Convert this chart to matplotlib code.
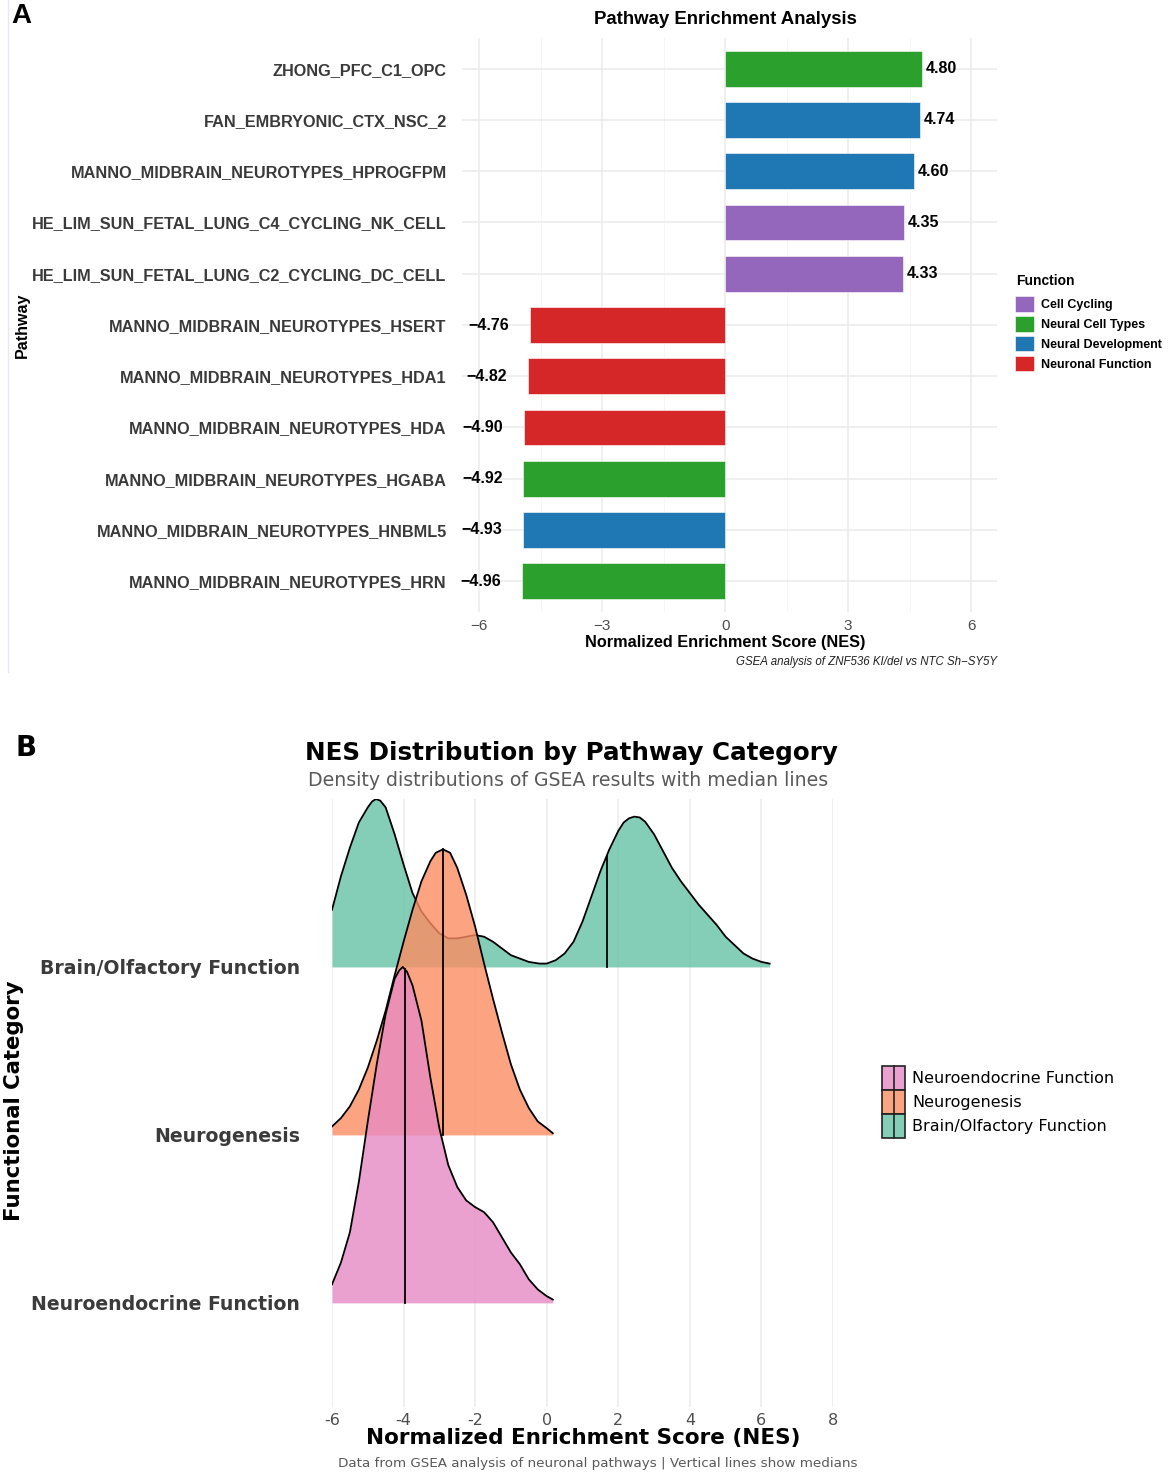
import matplotlib
matplotlib.use("Agg")
import matplotlib.pyplot as plt
import numpy as np
from matplotlib.patches import Patch, Rectangle
from matplotlib.lines import Line2D
from matplotlib.legend_handler import HandlerPatch

# ---- panel A data (top to bottom) ----
pathways = ["ZHONG_PFC_C1_OPC", "FAN_EMBRYONIC_CTX_NSC_2",
            "MANNO_MIDBRAIN_NEUROTYPES_HPROGFPM",
            "HE_LIM_SUN_FETAL_LUNG_C4_CYCLING_NK_CELL",
            "HE_LIM_SUN_FETAL_LUNG_C2_CYCLING_DC_CELL",
            "MANNO_MIDBRAIN_NEUROTYPES_HSERT", "MANNO_MIDBRAIN_NEUROTYPES_HDA1",
            "MANNO_MIDBRAIN_NEUROTYPES_HDA", "MANNO_MIDBRAIN_NEUROTYPES_HGABA",
            "MANNO_MIDBRAIN_NEUROTYPES_HNBML5", "MANNO_MIDBRAIN_NEUROTYPES_HRN"]
nes = [4.80, 4.74, 4.60, 4.35, 4.33, -4.76, -4.82, -4.90, -4.92, -4.93, -4.96]
functions = ["Neural Cell Types", "Neural Development", "Neural Development",
             "Cell Cycling", "Cell Cycling", "Neuronal Function", "Neuronal Function",
             "Neuronal Function", "Neural Cell Types", "Neural Development",
             "Neural Cell Types"]
function_names = ["Cell Cycling", "Neural Cell Types", "Neural Development", "Neuronal Function"]
function_colors = ["#9467bd", "#2ca02c", "#1f77b4", "#d62728"]

# ---- panel B data: ridge heights (row units) ----
categories = ["Neuroendocrine Function", "Neurogenesis", "Brain/Olfactory Function"]
ridge_colors = ["#e78ac3", "#fc8d62", "#66c2a5"]
medians = [-3.97, -2.9, 1.68]

neuroendo_x = [-6.0, -5.75, -5.5, -5.25, -5.0, -4.75, -4.5, -4.25, -4.12, -4.02, -3.9,
               -3.75, -3.5, -3.25, -3.0, -2.75, -2.5, -2.25, -2.0, -1.75, -1.5, -1.25,
               -1.0, -0.75, -0.5, -0.25, 0.0, 0.17]
neuroendo_h = [0.11, 0.24, 0.42, 0.72, 1.08, 1.42, 1.72, 1.93, 1.98, 2.00, 1.97,
               1.89, 1.68, 1.34, 1.04, 0.82, 0.69, 0.61, 0.57, 0.54, 0.48, 0.39,
               0.30, 0.23, 0.14, 0.08, 0.04, 0.02]

neurogen_x = [-6.0, -5.75, -5.5, -5.25, -5.0, -4.75, -4.5, -4.25, -4.0, -3.75, -3.5,
              -3.25, -3.1, -2.9, -2.7, -2.5, -2.25, -2.0, -1.75, -1.5, -1.25, -1.0,
              -0.75, -0.5, -0.25, 0.0, 0.17]
neurogen_h = [0.05, 0.10, 0.17, 0.27, 0.40, 0.56, 0.74, 0.95, 1.15, 1.34, 1.51,
              1.63, 1.68, 1.70, 1.68, 1.59, 1.43, 1.24, 1.02, 0.81, 0.61, 0.42,
              0.27, 0.16, 0.08, 0.04, 0.01]

brain_x = [-6.0, -5.75, -5.5, -5.25, -5.0, -4.88, -4.77, -4.65, -4.5, -4.25, -4.0,
           -3.75, -3.5, -3.25, -3.0, -2.75, -2.5, -2.25, -2.0, -1.75, -1.5, -1.25,
           -1.0, -0.75, -0.5, -0.2, 0.0, 0.25, 0.5, 0.75, 1.0, 1.25, 1.5, 1.75, 2.0,
           2.15, 2.3, 2.45, 2.6, 2.75, 3.0, 3.25, 3.5, 3.75, 4.0, 4.25, 4.5, 4.75,
           5.0, 5.25, 5.5, 5.75, 6.0, 6.23]
brain_h = [0.34, 0.54, 0.71, 0.86, 0.95, 0.985, 1.00, 0.99, 0.95, 0.79, 0.61,
           0.44, 0.33, 0.26, 0.20, 0.17, 0.17, 0.18, 0.19, 0.18, 0.15, 0.11,
           0.07, 0.05, 0.03, 0.02, 0.02, 0.04, 0.08, 0.15, 0.27, 0.42, 0.57, 0.70, 0.81,
           0.86, 0.885, 0.895, 0.89, 0.865, 0.79, 0.69, 0.59, 0.51, 0.44, 0.37, 0.31,
           0.25, 0.18, 0.13, 0.08, 0.05, 0.03, 0.02]

ridge_x = [neuroendo_x, neurogen_x, brain_x]
ridge_h = [neuroendo_h, neurogen_h, brain_h]

W, H = 1170, 1476
fig = plt.figure(figsize=(W / 100, H / 100), dpi=100)


def fx(px):
    return px / W


def fy(py):
    return 1 - py / H


# =================== panel A ===================
FA = "Liberation Sans"
axA = fig.add_axes([fx(462), fy(612), fx(997) - fx(462), fy(38) - fy(612)])
ypos = np.arange(len(pathways))[::-1]
cmap = dict(zip(function_names, function_colors))
axA.barh(ypos, nes, height=0.7, color=[cmap[f] for f in functions],
         edgecolor="white", linewidth=0.4, zorder=3)
for y, v in zip(ypos, nes):
    if v > 0:
        axA.annotate(f"{v:.2f}", (v, y), xytext=(3, 0), textcoords="offset points",
                     ha="left", va="center", fontsize=11.5, fontweight="bold",
                     family=FA, color="black")
    else:
        axA.annotate(f"{v:.2f}".replace("-", "\u2212"), (v, y), xytext=(-15, 0),
                     textcoords="offset points", ha="right", va="center",
                     fontsize=11.5, fontweight="bold", family=FA, color="black",
                     annotation_clip=False)
axA.set_xlim(-6.42, 6.63)
axA.set_ylim(-0.6, len(pathways) - 0.4)
axA.set_xticks([-6, -3, 0, 3, 6])
axA.set_xticklabels(["\u22126", "\u22123", "0", "3", "6"], family=FA, fontsize=11,
                    color="#4d4d4d")
axA.set_xticks([-4.5, -1.5, 1.5, 4.5], minor=True)
axA.set_yticks(ypos)
axA.set_yticklabels(pathways, family=FA, fontsize=11.7, fontweight="bold", color="#3a3a3a")
axA.tick_params(axis="y", length=0, pad=11)
axA.tick_params(axis="x", which="both", length=0, pad=5)
axA.grid(True, which="major", color="#ebebeb", linewidth=1.1)
axA.grid(True, which="minor", axis="x", color="#f5f5f5", linewidth=0.6)
axA.set_axisbelow(True)
for s in axA.spines.values():
    s.set_visible(False)

fig.text(fx(725), fy(20), "Pathway Enrichment Analysis", ha="center", va="center",
         fontsize=13.4, fontweight="bold", family=FA)
fig.text(fx(725), fy(642), "Normalized Enrichment Score (NES)", ha="center", va="center",
         fontsize=11.7, fontweight="bold", family=FA)
fig.text(fx(997), fy(662), "GSEA analysis of ZNF536 KI/del vs NTC Sh\u2212SY5Y", ha="right",
         va="center", fontsize=8.3, style="italic", family=FA, color="#222222")
fig.text(fx(22), fy(325), "Pathway", rotation=90, ha="center", va="center",
         fontsize=11.5, fontweight="bold", family=FA)
fig.text(fx(11), fy(3), "A", ha="left", va="top", fontsize=20, fontweight="bold", family=FA)
fig.add_artist(Line2D([fx(8), fx(8)], [fy(0), fy(672)], color="#e8e8f0", lw=1))

fig.text(fx(1016), fy(281), "Function", ha="left", va="center", fontsize=10,
         fontweight="bold", family=FA)
axA.legend([Patch(facecolor=c, edgecolor="white", linewidth=0.4) for c in function_colors],
           function_names, loc="upper left",
           bbox_to_anchor=(fx(1015), fy(296)), bbox_transform=fig.transFigure,
           frameon=False, borderpad=0, borderaxespad=0, handlelength=1.5,
           handleheight=1.55, labelspacing=0.34, handletextpad=0.55,
           prop={"family": FA, "size": 9, "weight": "bold"})

# =================== panel B ===================
FB = "DejaVu Sans"
axB = fig.add_axes([fx(332), fy(1407), fx(833) - fx(332), fy(799) - fy(1407)])
rows = [1, 2, 3]
draw_order = [2, 1, 0]  # top row first, lower rows on top
for k, i in enumerate(draw_order):
    xs = np.array(ridge_x[i])
    hs = np.array(ridge_h[i])
    base = rows[i]
    z = 2 + k * 3
    axB.fill_between(xs, base, base + hs, color=ridge_colors[i], alpha=0.8,
                     linewidth=0, zorder=z)
    axB.plot(xs, base + hs, color="black", lw=1.3, zorder=z + 1, solid_joinstyle="round")
    mh = np.interp(medians[i], xs, hs)
    axB.plot([medians[i], medians[i]], [base, base + mh], color="black", lw=1.3,
             zorder=z + 2)

axB.set_xlim(-6, 8)
axB.set_ylim(0.38, 4.0)
axB.set_xticks(np.arange(-6, 9, 2))
axB.set_xticklabels([str(t) for t in np.arange(-6, 9, 2)], family=FB, fontsize=11.5,
                    color="#4d4d4d")
axB.set_yticks(rows)
axB.set_yticklabels(categories, family=FB, fontsize=13.6, fontweight="bold", color="#3b3b3b")
axB.tick_params(axis="y", length=0, pad=23)
axB.tick_params(axis="x", length=0, pad=4)
axB.grid(True, axis="x", color="#ebebeb", linewidth=1.1)
axB.grid(False, axis="y")
axB.set_axisbelow(True)
for s in axB.spines.values():
    s.set_visible(False)

fig.text(fx(571), fy(753), "NES Distribution by Pathway Category", ha="center", va="center",
         fontsize=17.7, fontweight="bold", family=FB)
fig.text(fx(568), fy(781), "Density distributions of GSEA results with median lines",
         ha="center", va="center", fontsize=13.6, family=FB, color="#5a5a5a")
fig.text(fx(583), fy(1438), "Normalized Enrichment Score (NES)", ha="center", va="center",
         fontsize=15.5, fontweight="bold", family=FB)
fig.text(fx(598), fy(1463), "Data from GSEA analysis of neuronal pathways | Vertical lines show medians",
         ha="center", va="center", fontsize=9.7, family=FB, color="#5a5a5a")
fig.text(fx(14), fy(1101), "Functional Category", rotation=90, ha="center", va="center",
         fontsize=15.3, fontweight="bold", family=FB)
fig.text(fx(16), fy(734), "B", ha="left", va="top", fontsize=20, fontweight="bold", family=FB)


class MedianKey(HandlerPatch):
    def create_artists(self, legend, orig_handle, xdescent, ydescent, width, height,
                       fontsize, trans):
        r = Rectangle((-xdescent, -ydescent), width, height,
                      facecolor=orig_handle.get_facecolor(), edgecolor="#222222",
                      lw=1.2, transform=trans)
        ln = Line2D([-xdescent + width / 2] * 2, [-ydescent, -ydescent + height],
                    color="#222222", lw=1.2, transform=trans)
        return [r, ln]


legB_handles = [Patch(facecolor=c, alpha=0.8) for c in ridge_colors]
axB.legend(legB_handles, categories, loc="upper left",
           bbox_to_anchor=(fx(882), fy(1066)), bbox_transform=fig.transFigure,
           frameon=False, borderpad=0, borderaxespad=0, handlelength=1.45,
           handleheight=1.92, labelspacing=0.0, handletextpad=0.45,
           prop={"family": FB, "size": 11.5},
           handler_map={Patch: MedianKey()})

fig.savefig("out.png", dpi=100)
